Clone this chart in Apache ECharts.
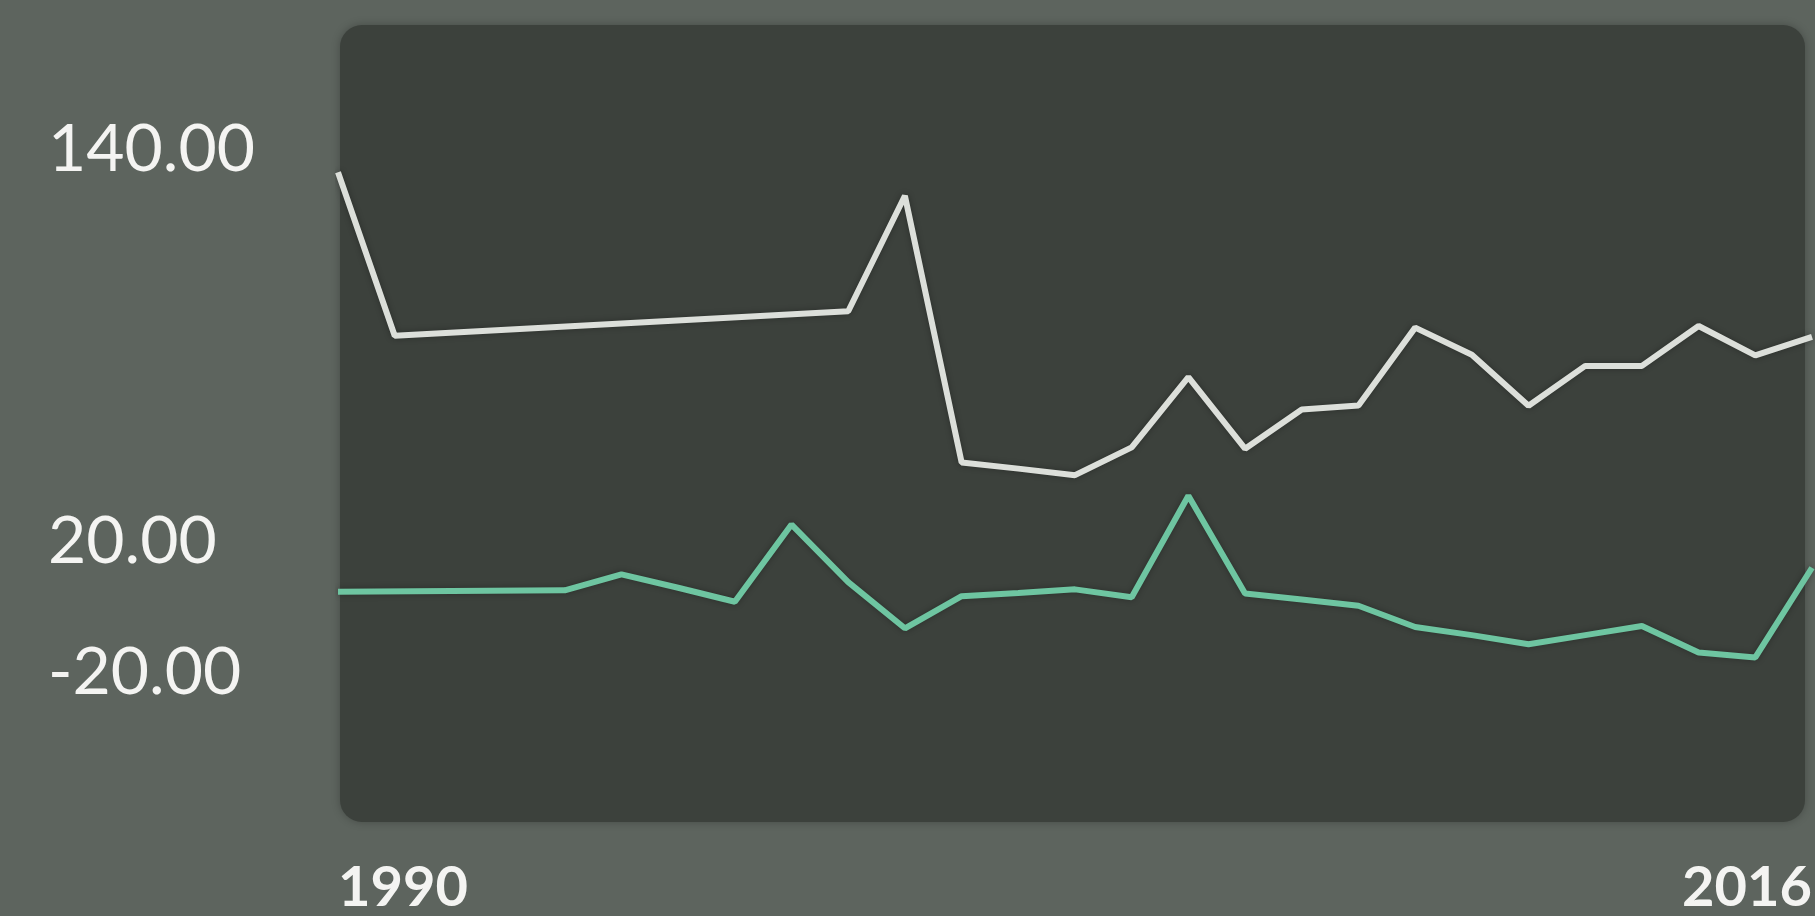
<!DOCTYPE html>
<html>
<head>
<meta charset="utf-8">
<script src="https://cdn.jsdelivr.net/npm/echarts@6/dist/echarts.min.js"></script>
<style>
  html, body { margin: 0; padding: 0; background: #5d645e; }
  #main { width: 1815px; height: 916px; }
</style>
</head>
<body>
<div id="main"></div>
<script>
// years on the x axis
var years = ['1990', '1991', '1992', '1993', '1994', '1995', '1996', '1997', '1998', '1999',
    '2000', '2001', '2002', '2003', '2004', '2005', '2006', '2007', '2008', '2009',
    '2010', '2011', '2012', '2013', '2014', '2015', '2016'];

// light line, no points 1992-1998
var whiteValues = [133, 83.0, null, null, null, null, null, null, null, 90.5,
    125.8, 44.3, 42.4, 40.4, 48.9, 70.4, 48.5, 60.5, 61.7, 85.5,
    77.2, 61.6, 73.8, 73.8, 86.0, 77.0, 82.7];

// green line, no points 1991-1993
var greenValues = [4.8, null, null, null, 5.2, 10.1, 6.0, 1.7, 25.3, 7.7,
    -6.4, 3.4, 4.4, 5.5, 3.1, 34.1, 4.2, 2.4, 0.5, -6.0,
    -8.5, -11.3, -8.5, -5.7, -13.8, -15.3, 12.1];

var yTickValues = [-20, 20, 140];

var myChart = echarts.init(document.getElementById('main'));

var option = {
    animation: false,
    backgroundColor: '#5d645e',
    textStyle: {
        fontFamily: 'Lato'
    },
    // dark rounded panel behind the lines
    graphic: [{
        type: 'rect',
        z: 0,
        shape: { x: 340, y: 25, width: 1465, height: 797, r: 22 },
        style: {
            fill: '#3c413c',
            shadowBlur: 8,
            shadowColor: 'rgba(0,0,0,0.25)'
        }
    }],
    grid: {
        left: 338,
        right: 0,
        top: 25,
        bottom: 94
    },
    xAxis: {
        type: 'category',
        boundaryGap: false,
        data: years,
        axisLine: { show: false },
        axisTick: { show: false },
        splitLine: { show: false },
        axisLabel: {
            interval: function (index) {
                return index === 0 || index === years.length - 1;
            },
            alignMinLabel: 'left',
            alignMaxLabel: 'right',
            verticalAlign: 'middle',
            margin: 68,
            color: '#f4f4f2',
            fontSize: 56,
            fontWeight: 'bold'
        }
    },
    yAxis: {
        type: 'value',
        min: -65,
        max: 178,
        axisLine: { show: false },
        axisTick: { show: false },
        splitLine: { show: false },
        axisLabel: {
            customValues: yTickValues,
            formatter: function (v) {
                return v.toFixed(2);
            },
            align: 'left',
            margin: 290,
            color: '#f4f4f2',
            fontSize: 66
        }
    },
    series: [{
        name: 'white',
        type: 'line',
        data: whiteValues,
        connectNulls: true,
        symbol: 'none',
        lineStyle: {
            color: '#dcdfda',
            width: 6,
            shadowBlur: 6,
            shadowColor: 'rgba(0,0,0,0.3)'
        }
    }, {
        name: 'green',
        type: 'line',
        data: greenValues,
        connectNulls: true,
        symbol: 'none',
        lineStyle: {
            color: '#6ec5a1',
            width: 6,
            shadowBlur: 6,
            shadowColor: 'rgba(0,0,0,0.3)'
        }
    }]
};

myChart.setOption(option);
</script>
</body>
</html>
